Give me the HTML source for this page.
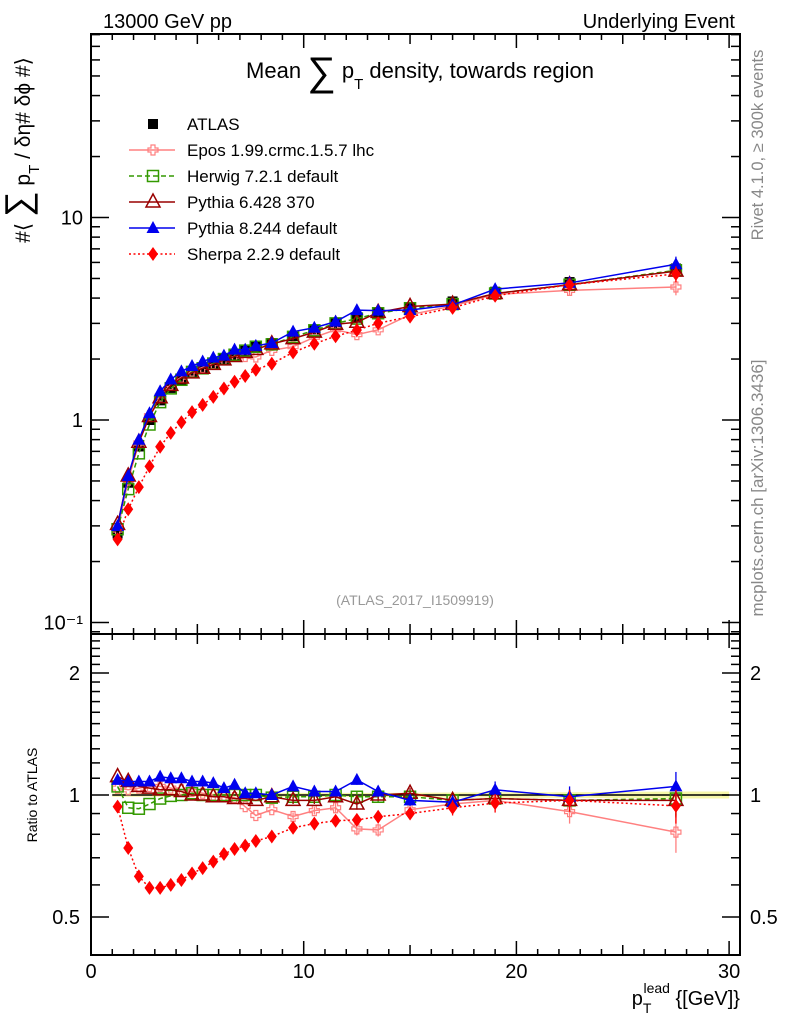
<!DOCTYPE html>
<html><head><meta charset="utf-8">
<style>
body{margin:0;background:#fff;}
svg{display:block;font-family:"Liberation Sans",sans-serif;}
</style></head>
<body>
<svg id="c" width="786" height="1024" viewBox="0 0 786 1024" xmlns="http://www.w3.org/2000/svg">
<text x="103" y="28" font-size="20">13000 GeV pp</text>
<text x="735" y="28" font-size="20" text-anchor="end">Underlying Event</text>
<text x="420" y="78" font-size="22" text-anchor="middle">Mean <tspan font-size="40" dy="7">∑</tspan><tspan dy="-7"> p</tspan><tspan font-size="15" dy="11">T</tspan><tspan dy="-11"> density, towards region</tspan></text>
<text transform="translate(30,150) rotate(-90)" font-size="21" text-anchor="middle">#⟨ <tspan font-size="36">∑</tspan> p<tspan font-size="15" dy="9">T</tspan><tspan dy="-9"> / δη# δϕ #⟩</tspan></text>
<text transform="translate(763,145) rotate(-90)" font-size="16.5" fill="#888" text-anchor="middle">Rivet 4.1.0, ≥ 300k events</text>
<text transform="translate(763,488) rotate(-90)" font-size="17" fill="#888" text-anchor="middle">mcplots.cern.ch [arXiv:1306.3436]</text>
<text x="415" y="605" font-size="14" fill="#999" text-anchor="middle">(ATLAS_2017_I1509919)</text>
<text transform="translate(37,795) rotate(-90)" font-size="14" text-anchor="middle">Ratio to ATLAS</text>
<text x="740" y="1005" font-size="20" text-anchor="end">p<tspan font-size="14" dy="8">T</tspan><tspan font-size="14" dy="-20" dx="-8">lead</tspan><tspan dy="12"> {[GeV]}</tspan></text>
<g id="plot"></g>
</svg>
<script>
const xCenters=[1.25,1.75,2.25,2.75,3.25,3.75,4.25,4.75,5.25,5.75,6.25,6.75,7.25,7.75,8.5,9.5,10.5,11.5,12.5,13.5,15,17,19,22.5,27.5];
const atlasVals=[0.275,0.49,0.74,1.0,1.25,1.44,1.58,1.71,1.80,1.9,2.0,2.1,2.2,2.3,2.4,2.6,2.8,3.0,3.2,3.4,3.6,3.85,4.3,4.8,5.6];
const atlasErr=[0.01,0.01,0.01,0.01,0.01,0.01,0.01,0.01,0.01,0.01,0.01,0.01,0.01,0.01,0.01,0.012,0.012,0.012,0.012,0.012,0.013,0.014,0.015,0.016,0.02];
const eposRatio=[1.04,1.03,1.04,1.05,1.05,1.04,1.03,1.02,1.01,1.0,0.99,0.985,0.936,0.89,0.92,0.885,0.915,0.93,0.825,0.82,0.92,0.95,0.97,0.91,0.81];
const herwigRatio=[1.05,0.93,0.925,0.95,0.98,0.995,1.0,1.01,1.0,1.0,1.0,1.0,1.0,1.0,0.985,0.99,0.99,1.0,0.99,0.99,0.99,0.97,0.98,0.97,0.98];
const py6Ratio=[1.11,1.08,1.05,1.04,1.03,1.03,1.02,1.0,1.0,0.99,0.99,0.98,0.98,0.97,0.99,0.97,0.97,0.99,0.95,1.0,1.01,0.97,0.98,0.97,0.97];
const py8Ratio=[1.09,1.08,1.08,1.08,1.11,1.10,1.10,1.08,1.08,1.07,1.04,1.06,1.01,1.01,1.0,1.05,1.02,1.02,1.09,1.02,0.97,0.96,1.03,0.99,1.05];
const sherpaRatio=[0.936,0.74,0.63,0.59,0.59,0.60,0.617,0.64,0.66,0.685,0.715,0.736,0.75,0.77,0.79,0.83,0.85,0.864,0.868,0.884,0.90,0.93,0.955,0.97,0.94];
const mcErr=[0.01,0.01,0.01,0.01,0.01,0.01,0.01,0.01,0.01,0.01,0.01,0.01,0.01,0.01,0.01,0.02,0.02,0.025,0.03,0.03,0.03,0.04,0.05,0.06,0.09];
const xTicks=[0,10,20,30];
const mainTicks=[["10","10"],["1","1"],["0.1","10⁻¹"]];
const ratioTicks=[["2","2"],["1","1"],["0.5","0.5"]];

const NS="http://www.w3.org/2000/svg";
const g=document.getElementById('plot');
const L=91,R=740,T=34,MB=634,RB=955;
const X=v=>91+v*21.27;
const YM=v=>420-202.5*Math.log10(v);
const YR=v=>795-122*Math.log2(v);
function el(tag,attrs,parent){const e=document.createElementNS(NS,tag);for(const k in attrs)e.setAttribute(k,attrs[k]);(parent||g).appendChild(e);return e;}

const defs=el('defs',{});
const c1=el('clipPath',{id:'cm'},defs);el('rect',{x:L,y:T,width:R-L,height:MB-T},c1);
const c2=el('clipPath',{id:'cr'},defs);el('rect',{x:L,y:MB,width:R-L,height:RB-MB},c2);

const bandTop=[],bandBot=[];
xCenters.forEach((x,i)=>{bandTop.push(X(x)+','+YR(1+atlasErr[i]));bandBot.unshift(X(x)+','+YR(1-atlasErr[i]));});
const band=el('polygon',{points:[X(1)+','+YR(1+atlasErr[0])].concat(bandTop,[X(30)+','+YR(1+atlasErr[24]),X(30)+','+YR(1-atlasErr[24])],bandBot,[X(1)+','+YR(1-atlasErr[0])]).join(' '),fill:'#f7f7a8',stroke:'none','clip-path':'url(#cr)'});


const ref=el('line',{x1:X(1),x2:X(30),y1:YR(1),y2:YR(1),stroke:'#000','stroke-width':1.5});



const f1=el('rect',{x:L,y:T,width:R-L,height:MB-T,fill:'none',stroke:'#000','stroke-width':2});


const f2=el('rect',{x:L,y:MB,width:R-L,height:RB-MB,fill:'none',stroke:'#000','stroke-width':2});



for(let v=0;v<=30;v++){
  const major=v%10===0,mid=v%5===0;
  const len=major?14:(mid?10:6);
  [[T,1],[MB,-1],[MB,1],[RB,-1]].forEach(([y,d])=>{
    const l=el('line',{x1:X(v),x2:X(v),y1:y,y2:y+d*len,stroke:'#000','stroke-width':1.5});
    
    
  });
}
xTicks.forEach(v=>{const t=el('text',{x:X(v),y:978,'font-size':20,'text-anchor':'middle'});t.textContent=String(v);
  
  });

for(let d=-2;d<=1;d++){for(let m=1;m<=9;m++){const v=m*Math.pow(10,d);const y=YM(v);if(y<T||y>MB)continue;
  const len=m===1?18:9;
  const a=el('line',{x1:L,x2:L+len,y1:y,y2:y,stroke:'#000','stroke-width':1.5});
  
  
  const b=el('line',{x1:R,x2:R-len,y1:y,y2:y,stroke:'#000','stroke-width':1.5});
  
  }}
mainTicks.forEach(([v,s])=>{const t=el('text',{x:83,y:YM(+v)+7,'font-size':20,'text-anchor':'end'});t.textContent=s;
  
  });

for(let v=0.4;v<=2.5001;v+=0.1){const y=YR(v);if(y<MB||y>RB)continue;
  const isMaj=Math.abs(v-1)<1e-6||Math.abs(v-2)<1e-6||Math.abs(v-0.5)<1e-6;
  const len=isMaj?18:9;
  const a=el('line',{x1:L,x2:L+len,y1:y,y2:y,stroke:'#000','stroke-width':1.5});
  
  
  const b=el('line',{x1:R,x2:R-len,y1:y,y2:y,stroke:'#000','stroke-width':1.5});
  
  }
ratioTicks.forEach(([v,s])=>{
  const t=el('text',{x:80,y:YR(+v)+7,'font-size':20,'text-anchor':'end'});t.textContent=s;
  
  
  const t2=el('text',{x:750,y:YR(+v)+7,'font-size':20});t2.textContent=s;
  
  });

function marker(kind,color,x,y,parent){
  let e;
  if(kind==='sq') e=el('rect',{x:x-5,y:y-5,width:10,height:10,fill:'#000'},parent);
  else if(kind==='osq') e=el('rect',{x:x-5.5,y:y-5.5,width:11,height:11,fill:'none',stroke:color,'stroke-width':1.5},parent);
  else if(kind==='otri') e=el('polygon',{points:`${x},${y-8} ${x-7},${y+5} ${x+7},${y+5}`,fill:'none',stroke:color,'stroke-width':1.5},parent);
  else if(kind==='tri') e=el('polygon',{points:`${x},${y-7} ${x-6.5},${y+5} ${x+6.5},${y+5}`,fill:color},parent);
  else if(kind==='dia') e=el('polygon',{points:`${x},${y-7} ${x-5},${y} ${x},${y+7} ${x+5},${y}`,fill:color},parent);
  else if(kind==='cross') e=el('path',{d:`M${x-2},${y-5}h4v3h3v4h-3v3h-4v-3h-3v-4h3z`,fill:'none',stroke:color,'stroke-width':1.2},parent);
  return e;
}
const series=[
 {name:'epos',ratio:eposRatio,color:'#ff8080',kind:'cross',dash:'',label:'Epos 1.99.crmc.1.5.7 lhc'},
 {name:'herwig',ratio:herwigRatio,color:'#339900',kind:'osq',dash:'5,3',label:'Herwig 7.2.1 default'},
 {name:'pythia6',ratio:py6Ratio,color:'#990000',kind:'otri',dash:'',label:'Pythia 6.428 370'},
 {name:'pythia8',ratio:py8Ratio,color:'#0000ee',kind:'tri',dash:'',label:'Pythia 8.244 default'},
 {name:'sherpa',ratio:sherpaRatio,color:'#ff0000',kind:'dia',dash:'2,2.5',label:'Sherpa 2.2.9 default'}
];

const ag=el('g',{'clip-path':'url(#cm)'});


xCenters.forEach((x,i)=>{const m=marker('sq','#000',X(x),YM(atlasVals[i]),ag);
  
  });

series.forEach(s=>{
  [['main',YM,'cm'],['ratio',YR,'cr']].forEach(([panel,Y,clip])=>{
    const sg=el('g',{'clip-path':`url(#${clip})`});
    
    
    const vals=xCenters.map((x,i)=>panel==='main'?atlasVals[i]*s.ratio[i]:s.ratio[i]);
    const pts=xCenters.map((x,i)=>X(x)+','+Y(vals[i])).join(' ');
    const pl=el('polyline',{points:pts,fill:'none',stroke:s.color,'stroke-width':1.5,'stroke-dasharray':s.dash},sg);
    
    
    xCenters.forEach((x,i)=>{
      const e=mcErr[i]*(panel==='main'?vals[i]:1);
      if(i>14){const eb=el('line',{x1:X(x),x2:X(x),y1:Y(vals[i]+e),y2:Y(Math.max(vals[i]-e,0.01)),stroke:s.color,'stroke-width':1.3},sg);
        
        }
      const m=marker(s.kind,s.color,X(x),Y(vals[i]),sg);
      
      
    });
  });
});

const lg=el('g',{});


const lrows=[{label:'ATLAS',kind:'sq',color:'#000',dash:null}].concat(series);
lrows.forEach((s,i)=>{
  const y=124+i*26;
  const eg=el('g',{},lg);
  
  
  if(s.dash!==null){el('line',{x1:129,x2:175,y1:y,y2:y,stroke:s.color,'stroke-width':1.5,'stroke-dasharray':s.dash},eg);}
  marker(s.kind,s.color,153,y,eg);
  const t=el('text',{x:187,y:y+6,'font-size':17},eg);t.textContent=s.label;
});
</script>
</body></html>
